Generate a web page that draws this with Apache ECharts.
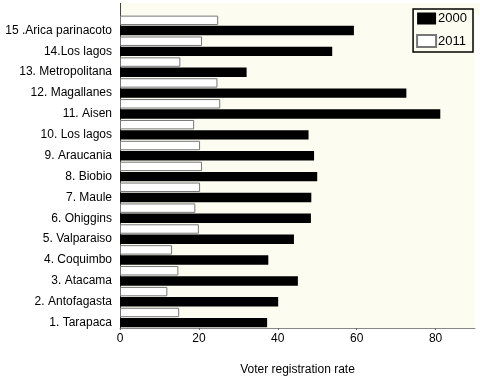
<!DOCTYPE html>
<html><head><meta charset="utf-8">
<script src="https://cdn.jsdelivr.net/npm/echarts@6/dist/echarts.min.js"></script>
<style>html,body{margin:0;padding:0;background:#fff}#c{width:480px;height:381px}</style>
</head><body><div id="c"></div>
<script>
const categories = ['1. Tarapaca','2. Antofagasta','3. Atacama','4. Coquimbo','5. Valparaiso','6. Ohiggins','7. Maule','8. Biobio','9. Araucania','10. Los lagos','11. Aisen','12. Magallanes','13. Metropolitana','14.Los lagos','15 .Arica parinacoto'];
const values2000 = [37.3,40.1,45.1,37.6,44.1,48.4,48.5,50.0,49.2,47.8,81.2,72.6,32.1,53.8,59.3];
const values2011 = [15.0,12.0,14.8,13.2,20.0,19.1,20.3,20.8,20.3,18.8,25.4,24.7,15.3,20.8,24.9];
const xTicks = [0,20,40,60,80];
const cream = '#fcfcf0';
const chart = echarts.init(document.getElementById('c'));
chart.setOption({
  animation:false,
  textStyle:{fontFamily:'Liberation Sans, Arial, sans-serif'},
  grid:{left:120,right:5,top:15,bottom:53,show:true,backgroundColor:cream,borderWidth:0},
  graphic:[
    {type:'rect',shape:{x:120,y:3,width:360,height:12},style:{fill:cream},silent:true,z:-1},
    {type:'line',shape:{x1:120.5,y1:3,x2:120.5,y2:16},style:{stroke:'#444',lineWidth:1},silent:true}
  ],
  legend:{right:7,top:9,orient:'vertical',itemWidth:19,itemHeight:12,itemGap:9,icon:'rect',
    borderColor:'#000',borderWidth:1.5,padding:[3,6,4,3],backgroundColor:cream,
    textStyle:{fontSize:13,color:'#000',padding:[0,0,0,-3]},data:['2000','2011']},
  xAxis:{type:'value',min:0,max:90,interval:20,
    axisLine:{show:true,lineStyle:{color:'#888'}},
    axisTick:{show:true,length:2,lineStyle:{color:'#666'}},
    splitLine:{show:false},
    axisLabel:{fontSize:12,color:'#000',margin:5,showMaxLabel:false,formatter:v=>xTicks.includes(v)?String(v):''},
    name:'Voter registration rate',nameLocation:'middle',nameGap:36,
    nameTextStyle:{fontSize:12,color:'#000'}},
  yAxis:{type:'category',data:categories,
    axisLine:{show:true,lineStyle:{color:'#444'}},
    axisTick:{show:false},
    axisLabel:{fontSize:12,color:'#000',margin:8,verticalAlign:'top',lineHeight:10}},
  series:[
    {name:'2011',type:'bar',data:values2011,barGap:'8%',barCategoryGap:'6%',
      itemStyle:{color:'#ffffff',borderColor:'#777',borderWidth:1}},
    {name:'2000',type:'bar',data:values2000,
      itemStyle:{color:'#000'}}
  ]
});
</script></body></html>
